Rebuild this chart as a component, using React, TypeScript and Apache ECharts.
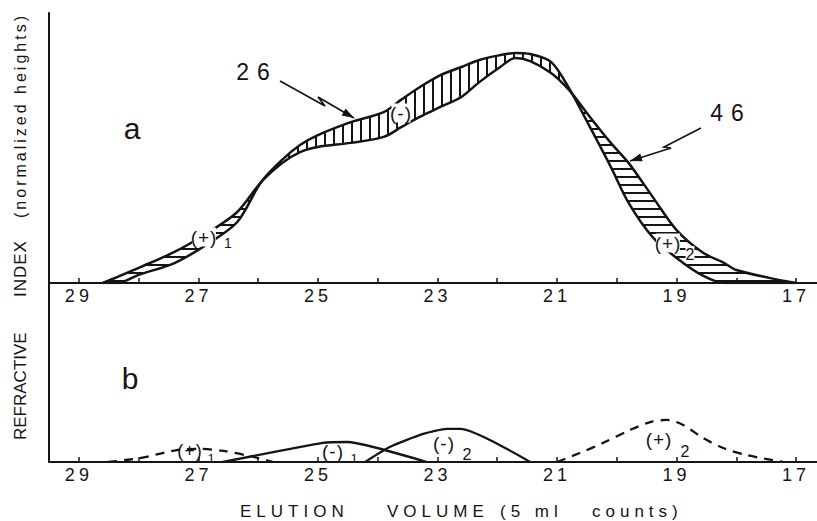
import { useEffect, useRef } from 'react';
import * as echarts from 'echarts';

const INK = '#141414';
const FONT = '"Liberation Sans", "DejaVu Sans", Arial, sans-serif';

// Panel a: elution volume samples (5 ml counts) shared by both traces
const volumeA = [28.6, 28.35, 28.0, 27.4, 26.85, 26.35, 25.95, 25.6, 25.3, 25.0, 24.45, 23.9, 23.6, 23.3, 22.95, 22.6, 22.3, 21.95, 21.7, 21.45, 21.1, 20.8, 20.45, 20.1, 19.8, 19.4, 19.0, 18.55, 18.2, 18.0, 17.45, 17.0];
// normalized refractive-index heights
const trace46 = [0, 2.3, 5.6, 11.5, 18.5, 26.3, 37.4, 44.4, 48.5, 50.4, 51.9, 54.1, 57.8, 61.5, 65.2, 68.9, 74.4, 80.0, 83.3, 82.2, 77.8, 71.5, 61.5, 51.9, 44.4, 31.9, 19.6, 11.1, 7.4, 4.8, 1.9, 0];
const trace26 = [0, 0, 3.0, 7.4, 14.4, 22.6, 37.4, 45.6, 51.1, 54.8, 59.6, 63.3, 68.0, 72.5, 77.0, 80.0, 82.6, 84.4, 85.2, 84.8, 81.9, 72.2, 57.8, 43.0, 29.6, 17.0, 9.3, 2.6, 0, 0, 0, 0];

// Panel b: difference components
const plus1Volume = [28.51, 27.98, 27.36, 26.97, 26.59, 26.14, 25.75];
const plus1 = [0, 1.3, 4.0, 4.4, 3.7, 2.0, 0];
const minus1Volume = [26.59, 24.92, 24.51, 23.18];
const minus1 = [0, 6.4, 6.7, 0];
const minus2Volume = [24.21, 23.8, 23.24, 22.84, 22.62, 21.45];
const minus2 = [0, 5.0, 9.4, 11.1, 11.1, 0];
const plus2Volume = [21.0, 20.62, 20.23, 19.78, 19.44, 19.16, 18.89, 18.56, 18.22, 17.82, 17.22];
const plus2 = [0, 3.0, 6.4, 10.7, 13.4, 14.1, 12.4, 8.1, 4.7, 2.3, 0];

// axis ticks and labels
const tickValues = [17, 18, 19, 20, 21, 22, 23, 24, 25, 26, 27, 28, 29];
const labelValues = [17, 19, 21, 23, 25, 27, 29];

const pairs = (xs: number[], ys: number[]) => xs.map((x, i) => [x, ys[i]]);
const lowerEnvelope = trace26.map((v, i) => Math.min(v, trace46[i]));

const SMOOTH = 0.3;

const vHatch = {
  symbol: 'rect', symbolSize: 1, symbolKeepAspect: false, color: INK,
  dashArrayX: [1.6, 6.4], dashArrayY: [4, 0], rotation: 0,
};
const hHatch = {
  symbol: 'rect', symbolSize: 1, symbolKeepAspect: false, color: INK,
  dashArrayX: [4, 0], dashArrayY: [1.6, 5.4], rotation: 0,
};

const areaLayer = (values: number[], fill: string, decal?: object) => ({
  type: 'line',
  xAxisIndex: 0,
  yAxisIndex: 0,
  data: pairs(volumeA, values),
  smooth: SMOOTH,
  symbol: 'none',
  silent: true,
  lineStyle: { width: 0, opacity: 0, ...(decal ? { decal } : {}) },
  itemStyle: decal ? { decal } : {},
  areaStyle: { color: fill, opacity: 1 },
  z: 2,
});

const traceLine = (values: number[]) => ({
  type: 'line',
  xAxisIndex: 0,
  yAxisIndex: 0,
  data: pairs(volumeA, values),
  smooth: SMOOTH,
  symbol: 'none',
  silent: true,
  lineStyle: { color: INK, width: 2.5 },
  z: 4,
});

const componentLine = (xs: number[], ys: number[], dashed: boolean, smooth: number) => ({
  type: 'line',
  xAxisIndex: 1,
  yAxisIndex: 1,
  data: pairs(xs, ys),
  smooth,
  symbol: 'none',
  silent: true,
  lineStyle: { color: INK, width: 2.3, type: dashed ? [9, 7] : 'solid' },
  z: 4,
});

const xAxisFor = (gridIndex: number) => ({
  type: 'value',
  gridIndex,
  min: 16.65,
  max: 29.5,
  inverse: true,
  z: 10,
  axisLine: { show: true, onZero: false, lineStyle: { color: INK, width: 2 } },
  axisTick: { show: true, inside: true, length: 5, customValues: tickValues, lineStyle: { color: INK, width: 1.5 } },
  axisLabel: { show: true, customValues: labelValues, margin: 4, fontSize: 18, color: INK, fontFamily: FONT },
  splitLine: { show: false },
});

const yAxisFor = (gridIndex: number, max: number) => ({
  type: 'value',
  gridIndex,
  min: 0,
  max,
  z: 10,
  axisLine: { show: true, onZero: false, lineStyle: { color: INK, width: 2 } },
  axisTick: { show: false },
  axisLabel: { show: false },
  splitLine: { show: false },
});

const text = (x: number, y: number, t: string, fontSize: number, extra: object = {}, styleExtra: object = {}) => ({
  type: 'text',
  x,
  y,
  silent: true,
  z: 20,
  ...extra,
  style: { text: t, fill: INK, fontSize, fontFamily: FONT, align: 'center', verticalAlign: 'middle', ...styleExtra },
});

const arrowHead = (tip: number[], from: number[], len = 12, half = 4) => {
  const dx = tip[0] - from[0];
  const dy = tip[1] - from[1];
  const d = Math.hypot(dx, dy);
  const ux = dx / d;
  const uy = dy / d;
  const bx = tip[0] - ux * len;
  const by = tip[1] - uy * len;
  return {
    type: 'polygon',
    silent: true,
    z: 20,
    shape: { points: [tip, [bx - uy * half, by + ux * half], [bx + uy * half, by - ux * half]] },
    style: { fill: INK },
  };
};

const zigzagArrow = (pts: number[][]) => [
  { type: 'polyline', silent: true, z: 20, shape: { points: pts }, style: { stroke: INK, lineWidth: 1.7, fill: 'none' } },
  arrowHead(pts[pts.length - 1], pts[pts.length - 2]),
];

// letter spacing per drawn string
const spacingFor = (t: string): number => {
  if (labelValues.map(String).includes(t)) return 4;
  if (t === '26' || t === '46') return 8;
  if (t === 'ELUTION' || t === 'VOLUME') return 5;
  if (t === '(5 ml') return 5;
  if (t === 'counts)') return 5;
  if (t === 'INDEX') return 1;
  if (t === '(normalized heights)') return 3;
  if (t === '(+)' || t === '(-)') return 1;
  return 0;
};

export default function App() {
  const ref = useRef<HTMLDivElement>(null);

  useEffect(() => {
    const el = ref.current;
    if (!el) return;
    const chart = echarts.init(el, null, { renderer: 'svg' });

    const option = {
      animation: false,
      backgroundColor: '#ffffff',
      grid: [
        { left: 49, right: 0, top: 13, height: 270 },
        { left: 49, right: 0, top: 283, height: 179 },
      ],
      xAxis: [xAxisFor(0), xAxisFor(1)],
      yAxis: [yAxisFor(0, 100), yAxisFor(1, 60)],
      series: [
        // hatching between the two traces
        areaLayer(trace26, 'rgba(0,0,0,0)', vHatch),
        areaLayer(trace46, '#ffffff', hHatch),
        areaLayer(lowerEnvelope, '#ffffff'),
        traceLine(trace46),
        traceLine(trace26),
        componentLine(plus1Volume, plus1, true, 0.3),
        componentLine(minus1Volume, minus1, false, 0.15),
        componentLine(minus2Volume, minus2, false, 0.2),
        componentLine(plus2Volume, plus2, true, 0.3),
      ],
      graphic: [
        text(132, 128, 'a', 30),
        text(130, 378, 'b', 30),
        text(257, 72, '26', 23),
        text(731, 113, '46', 23),
        ...zigzagArrow([[280, 81], [325, 106], [318, 97], [354, 118]]),
        ...zigzagArrow([[701, 128], [664, 147], [671, 148], [630, 161]]),
        // difference labels in panel a
        text(204, 237, '(+)', 19, {}, { backgroundColor: '#fff' }),
        text(228, 243, '1', 14),
        text(401, 113, '(-)', 19, {}, { backgroundColor: '#fff' }),
        text(668, 243, '(+)', 19, {}, { backgroundColor: '#fff' }),
        text(690, 254, '2', 16, {}, { backgroundColor: '#fff' }),
        // component labels in panel b
        text(190, 451, '(+)', 18),
        text(211, 458, '1', 13),
        text(333, 451, '(-)', 19),
        text(354, 458, '1', 13),
        text(444, 443, '(-)', 19),
        text(467, 454, '2', 16),
        text(659, 439, '(+)', 19),
        text(685, 451, '2', 16),
        // axis titles
        text(20, 440, 'REFRACTIVE', 17, { rotation: Math.PI / 2 }, { align: 'left' }),
        text(20, 297, 'INDEX', 17, { rotation: Math.PI / 2 }, { align: 'left' }),
        text(20, 13, '(normalized heights)', 16, { rotation: Math.PI / 2 }, { align: 'right' }),
        text(240, 511, 'ELUTION', 17, {}, { align: 'left' }),
        text(387, 511, 'VOLUME', 17, {}, { align: 'left' }),
        text(500, 511, '(5 ml', 17, {}, { align: 'left' }),
        text(592, 511, 'counts)', 17, {}, { align: 'left' }),
      ],
    };

    const applySpacing = () => {
      el.querySelectorAll('text').forEach((node) => {
        const s = spacingFor((node.textContent || '').trim());
        if (s) (node as SVGTextElement).style.letterSpacing = `${s}px`;
      });
    };

    chart.setOption(option as any);
    applySpacing();
    chart.on('finished', applySpacing);

    return () => {
      chart.dispose();
    };
  }, []);

  return (
    <div
      ref={ref}
      style={{ position: 'fixed', left: 0, top: 0, width: 817, height: 521, background: '#fff' }}
    />
  );
}
